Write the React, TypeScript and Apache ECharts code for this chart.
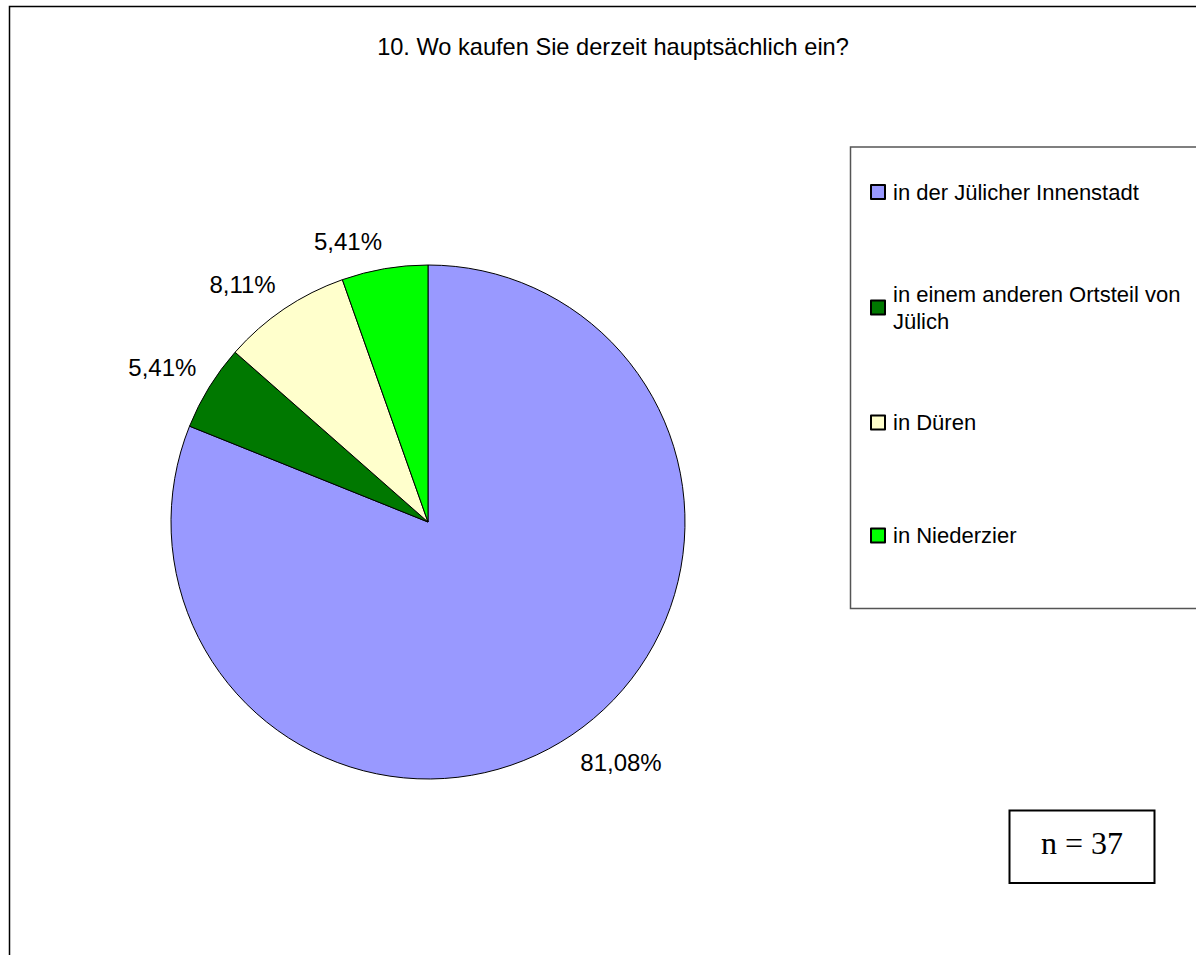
import React, { useEffect, useRef } from "react";
import * as echarts from "echarts";

const TITLE = "10. Wo kaufen Sie derzeit hauptsächlich ein?";
const categories = [
  "in der Jülicher Innenstadt",
  "in einem anderen Ortsteil von Jülich",
  "in Düren",
  "in Niederzier",
];
const counts = [30, 2, 3, 2];
const colors = ["#9999FF", "#007800", "#FFFFCC", "#00FF00"];
const sampleLabel = "n = 37";

const SANS = "'Liberation Sans', Arial, sans-serif";
const SERIF = "'Liberation Serif', 'Times New Roman', serif";

export default function App() {
  const ref = useRef<HTMLDivElement>(null);

  useEffect(() => {
    const chart = echarts.init(ref.current!, null, { renderer: "svg" });
    const cx = 428;
    const cy = 522;
    const R = 257;
    const LH = 27;
    const legendFont = 22;
    const legendWidth = 296;
    const iconCenters = [192, 307.5, 422.5, 535.5];
    const total = counts.reduce((a, b) => a + b, 0);

    const canvas = document.createElement("canvas");
    const ctx = canvas.getContext("2d")!;
    ctx.font = `${legendFont}px ${SANS}`;

    const legends = categories.map((name, i) => {
      const lines = ctx.measureText(name).width > legendWidth ? 2 : 1;
      const pad = (lines - 1) * LH;
      const blockH = pad + lines * LH;
      return {
        show: true,
        data: [name],
        selectedMode: false,
        orient: "vertical",
        left: 870,
        top: iconCenters[i] - blockH / 2,
        padding: 0,
        itemWidth: 14,
        itemHeight: 14,
        icon: "rect",
        itemGap: 0,
        textStyle: {
          fontFamily: SANS,
          fontSize: legendFont,
          color: "#000",
          lineHeight: LH,
          width: legendWidth,
          overflow: "break",
          padding: [pad, 0, 0, 3],
        },
      };
    });

    chart.setOption({
      animation: false,
      backgroundColor: "#fff",
      title: {
        text: TITLE,
        left: 613,
        top: 35,
        padding: 0,
        textAlign: "center",
        textStyle: { fontFamily: SANS, fontSize: 23.6, fontWeight: "normal", color: "#000" },
      },
      legend: legends,
      series: [
        {
          type: "pie",
          center: [cx, cy],
          radius: R,
          startAngle: 90,
          clockwise: true,
          avoidLabelOverlap: false,
          silent: true,
          data: categories.map((name, i) => ({
            name,
            value: counts[i],
            itemStyle: { color: colors[i] },
          })),
          itemStyle: { borderColor: "#000", borderWidth: 1 },
          label: {
            show: true,
            position: "outside",
            formatter: (p: any) => ((p.value / total) * 100).toFixed(2).replace(".", ",") + "%",
            fontFamily: SANS,
            fontSize: 24,
            color: "#000",
            distanceToLabelLine: 0,
          },
          labelLine: { show: false, length: 15, length2: 0 },
          labelLayout: (params: any) => {
            const r = params.labelRect;
            const mid = r.y + r.height / 2;
            return { dy: mid > cy ? r.height / 2 + 3 : -r.height / 2 };
          },
          emphasis: { disabled: true },
        },
      ],
      graphic: [
        {
          type: "rect",
          z: -1,
          shape: { x: 9.5, y: 6.5, width: 1300, height: 1000 },
          style: { fill: "none", stroke: "#000", lineWidth: 1.5 },
        },
        {
          type: "rect",
          z: -1,
          shape: { x: 850.5, y: 147, width: 500, height: 461.5 },
          style: { fill: "none", stroke: "#555", lineWidth: 1.5 },
        },
        {
          type: "rect",
          shape: { x: 1009.5, y: 810.5, width: 145, height: 72.5 },
          style: { fill: "#fff", stroke: "#000", lineWidth: 2 },
        },
        {
          type: "text",
          x: 1082,
          y: 843,
          style: {
            text: sampleLabel,
            fontFamily: SERIF,
            fontSize: 32,
            fill: "#000",
            align: "center",
            verticalAlign: "middle",
          },
        },
      ],
    });

    return () => chart.dispose();
  }, []);

  return (
    <div
      ref={ref}
      style={{ position: "absolute", left: 0, top: 0, width: 1196, height: 955, background: "#fff" }}
    />
  );
}
